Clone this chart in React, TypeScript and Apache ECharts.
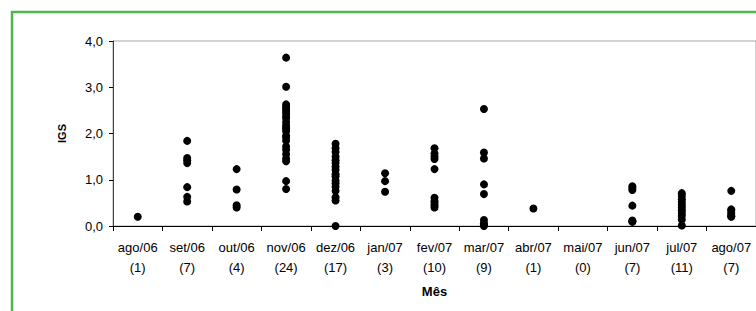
import React, { useEffect, useRef } from "react";
import * as echarts from "echarts";

const months = ["ago/06", "set/06", "out/06", "nov/06", "dez/06", "jan/07", "fev/07", "mar/07", "abr/07", "mai/07", "jun/07", "jul/07", "ago/07"];
const counts = [1, 7, 4, 24, 17, 3, 10, 9, 1, 0, 7, 11, 7];

const ago06 = [0.2];
const set06 = [1.84, 1.47, 1.42, 1.36, 0.84, 0.63, 0.53];
const out06 = [1.23, 0.79, 0.45, 0.4];
const nov06 = [3.64, 3.01, 2.63, 2.58, 2.54, 2.49, 2.44, 2.38, 2.33, 2.25, 2.18, 2.13, 2.1, 2.05, 1.95, 1.92, 1.85, 1.72, 1.65, 1.55, 1.46, 1.4, 0.97, 0.8];
const dez06 = [1.78, 1.68, 1.6, 1.5, 1.42, 1.36, 1.28, 1.21, 1.12, 1.07, 0.98, 0.92, 0.85, 0.76, 0.62, 0.55, 0.0];
const jan07 = [1.14, 0.97, 0.74];
const fev07 = [1.68, 1.57, 1.5, 1.45, 1.23, 0.61, 0.54, 0.5, 0.45, 0.4];
const mar07 = [2.53, 1.59, 1.46, 0.9, 0.69, 0.13, 0.06, 0.03, 0.0];
const abr07 = [0.38];
const mai07: number[] = [];
const jun07 = [0.86, 0.82, 0.78, 0.44, 0.12, 0.1, 0.09];
const jul07 = [0.71, 0.65, 0.58, 0.52, 0.46, 0.4, 0.34, 0.28, 0.22, 0.14, 0.01];
const ago07 = [0.76, 0.36, 0.33, 0.28, 0.24, 0.21, 0.2];

const values = [ago06, set06, out06, nov06, dez06, jan07, fev07, mar07, abr07, mai07, jun07, jul07, ago07];

const yTicks = [0, 1, 2, 3, 4];

export default function App() {
  const ref = useRef<HTMLDivElement>(null);
  useEffect(() => {
    if (!ref.current) return;
    const chart = echarts.init(ref.current, null, { renderer: "svg" });
    const data: [number, number][] = [];
    values.forEach((arr, i) => arr.forEach((v) => data.push([i, v])));
    const font = "Liberation Sans, Arial, sans-serif";
    chart.setOption({
      animation: false,
      backgroundColor: "#ffffff",
      textStyle: { fontFamily: font },
      grid: {
        left: 113,
        top: 41,
        right: 0,
        bottom: 85,
        show: true,
        borderColor: "#a6a6a6",
        borderWidth: 1,
      },
      xAxis: {
        type: "category",
        data: months.map((m, i) => `${m}\n(${counts[i]})`),
        boundaryGap: true,
        axisLine: { lineStyle: { color: "#000", width: 1 } },
        axisTick: { show: true, length: 5, lineStyle: { color: "#000" } },
        axisLabel: { color: "#000", fontSize: 13, fontFamily: font, margin: 11, lineHeight: 20, interval: 0 },
        splitLine: { show: false },
        name: "Mês",
        nameLocation: "middle",
        nameGap: 59,
        nameTextStyle: { color: "#000", fontSize: 13, fontWeight: "bold", fontFamily: font },
      },
      yAxis: {
        type: "value",
        min: yTicks[0],
        max: yTicks[yTicks.length - 1],
        interval: 1,
        axisLine: { show: true, lineStyle: { color: "#444", width: 1 } },
        axisTick: { show: true, length: 4, lineStyle: { color: "#000" } },
        axisLabel: {
          color: "#000",
          fontSize: 13,
          fontFamily: font,
          margin: 10,
          formatter: (v: number) => v.toFixed(1).replace(".", ","),
        },
        splitLine: { show: false },
        name: "IGS",
        nameLocation: "middle",
        nameGap: 46,
        nameRotate: 90,
        nameTextStyle: { color: "#000", fontSize: 11, fontWeight: "bold", fontFamily: font },
      },
      series: [
        {
          type: "scatter",
          data,
          symbol: "circle",
          symbolSize: 8,
          itemStyle: { color: "#000", opacity: 1 },
        },
      ],
      graphic: [
        {
          type: "rect",
          shape: { x: 12, y: 12, width: 900, height: 500 },
          style: { fill: "none", stroke: "#4CB84C", lineWidth: 2.5 },
          silent: true,
          z: 100,
        },
      ],
    });
    return () => chart.dispose();
  }, []);
  return <div ref={ref} style={{ position: "fixed", left: 0, top: 0, width: 756, height: 311 }} />;
}
